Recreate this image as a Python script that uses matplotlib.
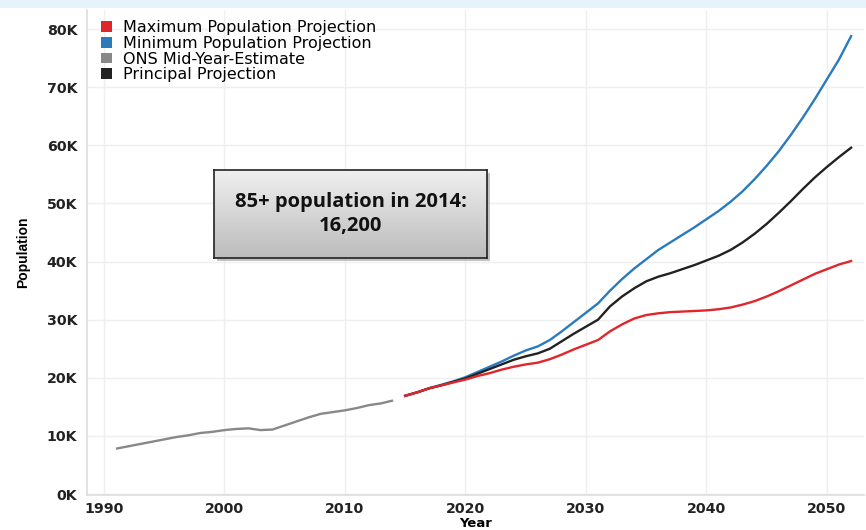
import numpy as np
import matplotlib
matplotlib.use("Agg")
import matplotlib.pyplot as plt
from matplotlib.patches import Patch, Rectangle
from matplotlib.colors import LinearSegmentedColormap

# ---- data ----
ons_years = list(range(1991, 2015))
ons_values = [7.8, 8.2, 8.6, 9.0, 9.4, 9.8, 10.1, 10.5, 10.7, 11.0, 11.2, 11.3,
              11.0, 11.1, 11.8, 12.5, 13.2, 13.8, 14.1, 14.4, 14.8, 15.3, 15.6, 16.1]

proj_years = list(range(2015, 2053))
max_proj = [16.9, 17.5, 18.2, 18.7, 19.2, 19.7, 20.3, 20.8, 21.4, 21.9, 22.3, 22.6,
            23.2, 24.0, 24.9, 25.7, 26.5, 28.0, 29.2, 30.2, 30.8, 31.1, 31.3, 31.4,
            31.5, 31.6, 31.8, 32.1, 32.6, 33.2, 34.0, 34.9, 35.9, 36.9, 37.9, 38.7,
            39.5, 40.1]
min_proj = [16.9, 17.5, 18.2, 18.8, 19.4, 20.1, 21.0, 21.9, 22.8, 23.8, 24.7, 25.4,
            26.5, 28.0, 29.6, 31.2, 32.8, 35.0, 37.0, 38.8, 40.4, 42.0, 43.3, 44.6,
            45.9, 47.3, 48.7, 50.3, 52.1, 54.2, 56.5, 59.0, 61.8, 64.8, 68.0, 71.4,
            74.8, 78.8]
principal = [16.9, 17.5, 18.2, 18.7, 19.3, 19.9, 20.7, 21.5, 22.3, 23.1, 23.7, 24.2,
             25.0, 26.3, 27.6, 28.8, 30.0, 32.3, 34.0, 35.4, 36.6, 37.4, 38.0, 38.7,
             39.4, 40.2, 41.0, 42.0, 43.3, 44.8, 46.5, 48.4, 50.4, 52.5, 54.5, 56.3,
             58.0, 59.6]

y_ticks = [0, 10000, 20000, 30000, 40000, 50000, 60000, 70000, 80000]
y_tick_labels = ["0K", "10K", "20K", "30K", "40K", "50K", "60K", "70K", "80K"]
x_ticks = [1990, 2000, 2010, 2020, 2030, 2040, 2050]

series_names = ["Maximum Population Projection", "Minimum Population Projection",
                "ONS Mid-Year-Estimate", "Principal Projection"]
RED, BLUE, GRAY, BLACK = "#e0262b", "#2a7bbd", "#888888", "#222222"

fig = plt.figure(figsize=(8.66, 5.30), dpi=100)
fig.patch.set_facecolor("white")
# light blue band at top
fig.patches.append(Rectangle((0, 1 - 8 / 530), 1, 8 / 530, transform=fig.transFigure,
                             facecolor="#e6f3fa", edgecolor="none", zorder=0))

ax = fig.add_axes([87 / 866, 1 - 495 / 530, 777 / 866, 485 / 530])

ax.plot(ons_years, [v * 1000 for v in ons_values], color=GRAY, lw=1.7, solid_capstyle="butt")
ax.plot(proj_years, [v * 1000 for v in min_proj], color=BLUE, lw=1.7)
ax.plot(proj_years, [v * 1000 for v in principal], color=BLACK, lw=1.7)
ax.plot(proj_years, [v * 1000 for v in max_proj], color=RED, lw=1.7)

ax.set_xlim(1988.6, 2053.07)
ax.set_ylim(-170, 83300)
ax.set_xticks(x_ticks)
ax.set_yticks(y_ticks)
ax.set_yticklabels(y_tick_labels)
ax.grid(True, color="#efefef", lw=1)
ax.set_axisbelow(True)
for s in ["top", "right"]:
    ax.spines[s].set_visible(False)
for s in ["left", "bottom"]:
    ax.spines[s].set_color("#dddddd")
    ax.spines[s].set_linewidth(1.2)
ax.tick_params(length=0, labelsize=10.2, labelcolor="#222222")
ax.tick_params(axis="y", pad=7)
ax.tick_params(axis="x", pad=5)
for lbl in ax.get_xticklabels() + ax.get_yticklabels():
    lbl.set_fontweight("bold")
    lbl.set_family("DejaVu Sans")
ax.set_xlabel("Year", fontsize=9.5, fontweight="bold", family="DejaVu Sans", labelpad=0.5)
ax.set_ylabel("Population", fontsize=10, fontweight="bold", family="Liberation Sans", labelpad=12)

handles = [Patch(facecolor=c, edgecolor="none") for c in [RED, BLUE, GRAY, BLACK]]
leg = ax.legend(handles, series_names, loc="upper left", bbox_to_anchor=(0.0, 1.009),
                frameon=False, handlelength=0.65, handleheight=0.65, handletextpad=0.7,
                labelspacing=0.05, prop={"family": "DejaVu Sans", "size": 11.5})

# annotation box with gradient and shadow
bx0, by0, bw, bh = 214 / 866, 1 - 258 / 530, 273 / 866, 88 / 530
fig.patches.append(Rectangle((bx0 + 3 / 866, by0 - 3 / 530), bw, bh, transform=fig.transFigure,
                             facecolor="#9a9a9a", edgecolor="none", alpha=0.6, zorder=5))
bax = fig.add_axes([bx0, by0, bw, bh], zorder=6)
grad = np.linspace(0, 1, 100).reshape(-1, 1)
cmap = LinearSegmentedColormap.from_list("g", ["#efefef", "#bcbcbc"])
bax.imshow(grad, aspect="auto", cmap=cmap, extent=[0, 1, 0, 1], origin="upper")
bax.set_xlim(0, 1)
bax.set_ylim(0, 1)
bax.set_xticks([])
bax.set_yticks([])
for s in bax.spines.values():
    s.set_color("#222222")
    s.set_linewidth(1.2)
bax.text(0.5, 0.5, "85+ population in 2014:\n16,200", ha="center", va="center",
         fontsize=14.5, fontweight="bold", family="Open Sans", color="#111111", linespacing=1.2)

fig.savefig("out.png", dpi=100)
